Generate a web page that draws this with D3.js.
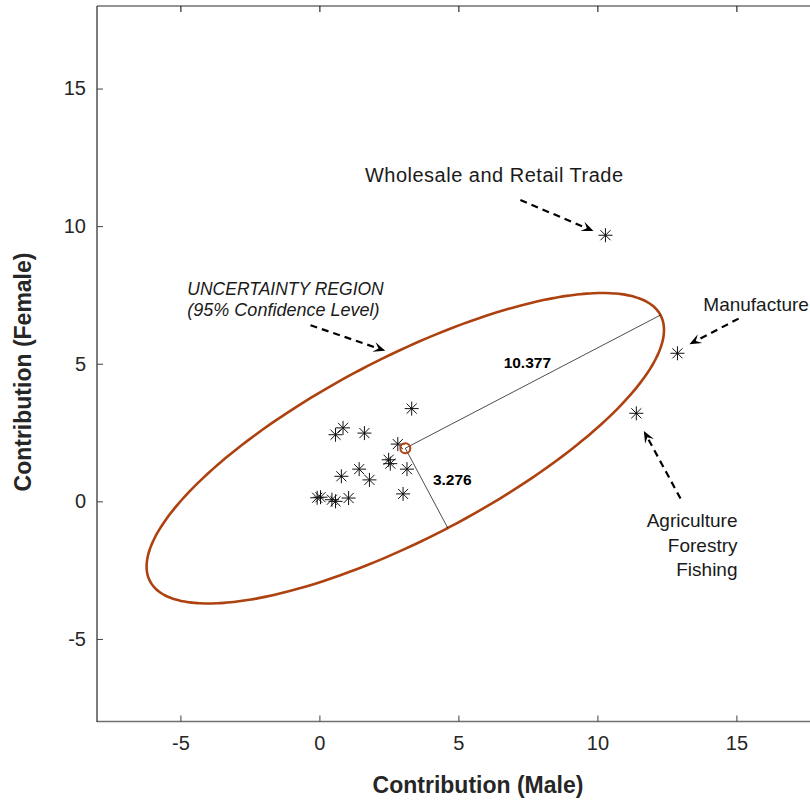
<!DOCTYPE html>
<html>
<head>
<meta charset="utf-8">
<script src="https://cdn.jsdelivr.net/npm/d3@7"></script>
<style>
  body { margin: 0; background: #fff; }
  svg { font-family: "Liberation Sans", Arial, sans-serif; }
</style>
</head>
<body>
<svg></svg>
<script>
// sector contributions (male, female)
const pointsX = [3.32, 0.85, 0.58, 1.62, 2.82, 2.49, 2.55, 3.15, 1.43, 0.79, 1.80, 3.01, 0.04, -0.08, 0.45, 0.58, 1.05, 10.29, 12.88, 11.40];
const pointsY = [3.37, 2.67, 2.42, 2.48, 2.08, 1.51, 1.37, 1.17, 1.17, 0.91, 0.78, 0.27, 0.15, 0.13, 0.06, 0.00, 0.12, 9.67, 5.38, 3.20];

// confidence ellipse
const ellipseCenter = [3.09, 1.93];
const semiMajor = 10.377;
const semiMinor = 3.276;
const ellipseAngle = 27.8; // degrees

const xTicks = [-5, 0, 5, 10, 15];
const yTicks = [-5, 0, 5, 10, 15];

// annotation arrows [x1, y1, x2, y2] in data units
const arrows = [
  [7.23, 10.95, 9.86, 9.82],
  [15.08, 6.64, 13.31, 5.71],
  [12.99, 0.10, 11.67, 2.56],
  [-0.32, 6.40, 2.37, 5.47]
];

const width = 810;
const height = 801;

const svg = d3.select("svg").attr("width", width).attr("height", height);

const xScale = d3.scaleLinear().domain([-8, 18]).range([97, 97 + 26 * 27.8]);
const yScale = d3.scaleLinear().domain([-8, 18]).range([721.5, 6]);

const ellipseColor = "#ad4210";

// axes box
svg.append("line").attr("x1", 97).attr("x2", 820).attr("y1", 6).attr("y2", 6)
  .attr("stroke", "#707070").attr("stroke-width", 1.5);
svg.append("line").attr("x1", 97).attr("x2", 820).attr("y1", 721.5).attr("y2", 721.5)
  .attr("stroke", "#707070").attr("stroke-width", 1.5);
svg.append("line").attr("x1", 97).attr("x2", 97).attr("y1", 6).attr("y2", 722)
  .attr("stroke", "#262626").attr("stroke-width", 1.2);

const xAxis = d3.axisBottom(xScale).tickValues(xTicks).tickSize(-6).tickPadding(14).tickFormat((d) => String(d));
const yAxis = d3.axisLeft(yScale).tickValues(yTicks).tickSize(-6).tickPadding(11).tickFormat((d) => String(d));

const gx = svg.append("g").attr("transform", "translate(0," + 721.5 + ")").call(xAxis);
const gy = svg.append("g").attr("transform", "translate(97,0)").call(yAxis);
// top ticks
svg.append("g").attr("transform", "translate(0,6)")
  .call(d3.axisTop(xScale).tickValues(xTicks).tickSize(-6).tickFormat(""));

[gx, gy].forEach((g) => {
  g.selectAll(".tick line").attr("stroke", "#404040");
  g.selectAll(".tick text").attr("fill", "#262626").style("font-size", "20px");
});
svg.selectAll(".domain").remove();

// axis labels
svg.append("text").attr("x", 478).attr("y", 793).attr("text-anchor", "middle")
  .style("font-size", "23px").style("font-weight", "bold").attr("fill", "#262626")
  .text("Contribution (Male)");
svg.append("text").attr("transform", "translate(31,372) rotate(-90)").attr("text-anchor", "middle")
  .style("font-size", "23px").style("font-weight", "bold").attr("fill", "#262626")
  .text("Contribution (Female)");

// ellipse
const th = ellipseAngle * Math.PI / 180;
const ellPts = d3.range(0, 360, 2).map((d) => {
  const t = d * Math.PI / 180;
  const ex = semiMajor * Math.cos(t);
  const ey = semiMinor * Math.sin(t);
  return [ellipseCenter[0] + ex * Math.cos(th) - ey * Math.sin(th),
          ellipseCenter[1] + ex * Math.sin(th) + ey * Math.cos(th)];
});
svg.append("path")
  .attr("d", d3.line().x((d) => xScale(d[0])).y((d) => yScale(d[1])).curve(d3.curveCardinalClosed)(ellPts))
  .attr("fill", "none").attr("stroke", ellipseColor).attr("stroke-width", 2.6);

// semi-axis lines
const majorEnd = [ellipseCenter[0] + semiMajor * Math.cos(th), ellipseCenter[1] + semiMajor * Math.sin(th)];
const minorEnd = [ellipseCenter[0] + semiMinor * Math.sin(th), ellipseCenter[1] - semiMinor * Math.cos(th)];
[majorEnd, minorEnd].forEach((e) => {
  svg.append("line")
    .attr("x1", xScale(ellipseCenter[0])).attr("y1", yScale(ellipseCenter[1]))
    .attr("x2", xScale(e[0])).attr("y2", yScale(e[1]))
    .attr("stroke", "#000").attr("stroke-width", 0.7);
});

// asterisk markers
const r = 7;
const starPath = "M" + (-r) + ",0H" + r + "M0," + (-r) + "V" + r +
  "M" + (-r * 0.72) + "," + (-r * 0.72) + "L" + (r * 0.72) + "," + (r * 0.72) +
  "M" + (-r * 0.72) + "," + (r * 0.72) + "L" + (r * 0.72) + "," + (-r * 0.72);
svg.selectAll(".star")
  .data(pointsX.map((x, i) => [x, pointsY[i]]))
  .enter()
  .append("path")
  .attr("class", "star")
  .attr("d", starPath)
  .attr("transform", (d) => "translate(" + xScale(d[0]) + "," + yScale(d[1]) + ")")
  .attr("stroke", "#111").attr("stroke-width", 1).attr("fill", "none");

// center marker
svg.append("circle")
  .attr("cx", xScale(ellipseCenter[0])).attr("cy", yScale(ellipseCenter[1])).attr("r", 5)
  .attr("fill", "none").attr("stroke", ellipseColor).attr("stroke-width", 2);

// semi-axis labels
svg.append("text").attr("x", xScale(7.48)).attr("y", yScale(4.85)).attr("text-anchor", "middle")
  .style("font-size", "15.5px").style("font-weight", "bold").text(semiMajor.toFixed(3));
svg.append("text").attr("x", xScale(4.78)).attr("y", yScale(0.6)).attr("text-anchor", "middle")
  .style("font-size", "15.5px").style("font-weight", "bold").text(semiMinor.toFixed(3));

// arrows
arrows.forEach((a) => {
  const x1 = xScale(a[0]), y1 = yScale(a[1]), x2 = xScale(a[2]), y2 = yScale(a[3]);
  const ang = Math.atan2(y2 - y1, x2 - x1);
  const len = 12;
  const g = svg.append("g").attr("transform", "translate(" + x2 + "," + y2 + ") rotate(" + (ang * 180 / Math.PI) + ")");
  const L = Math.hypot(x2 - x1, y2 - y1);
  g.append("line").attr("x1", -L).attr("y1", 0).attr("x2", -len * 0.6).attr("y2", 0)
    .attr("stroke", "#000").attr("stroke-width", 2.2).attr("stroke-dasharray", "7,5");
  g.append("path").attr("d", "M0,0L" + (-len) + "," + (-5) + "L" + (-len * 0.6) + ",0L" + (-len) + ",5Z")
    .attr("fill", "#000");
});

// annotation texts
const ann = svg.append("g").style("font-size", "19px").attr("fill", "#1a1a1a");
ann.append("text").attr("x", xScale(6.29)).attr("y", yScale(11.62)).attr("text-anchor", "middle")
  .style("letter-spacing", "0.5px").style("font-size", "20px").text("Wholesale and Retail Trade");
ann.append("text").attr("x", xScale(13.81)).attr("y", yScale(6.93)).text("Manufacture");
["Agriculture", "Forestry", "Fishing"].forEach((t, i) => {
  ann.append("text").attr("x", xScale(15.04)).attr("y", yScale([-0.93, -1.84, -2.71][i]))
    .attr("text-anchor", "end").text(t);
});
ann.append("text").attr("x", xScale(-4.75)).attr("y", yScale(7.51)).style("font-style", "italic")
  .style("font-size", "17.5px").text("UNCERTAINTY REGION");
ann.append("text").attr("x", xScale(-4.75)).attr("y", yScale(6.75)).style("font-style", "italic")
  .style("font-size", "18px").text("(95% Confidence Level)");
</script>
</body>
</html>
